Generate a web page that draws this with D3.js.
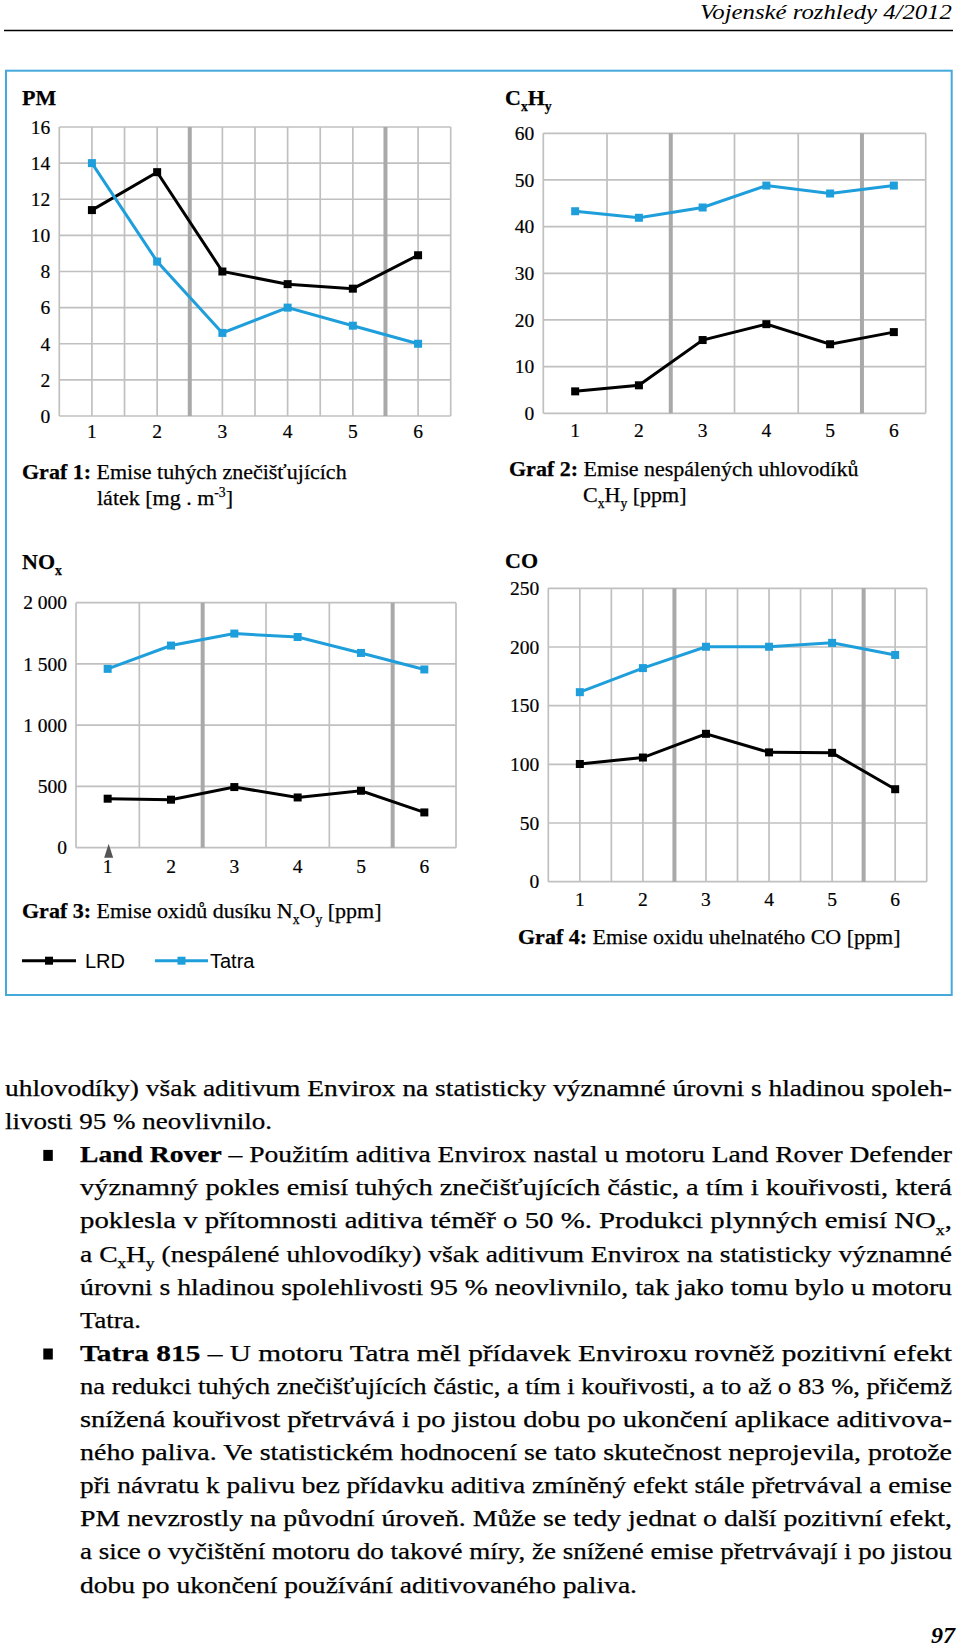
<!DOCTYPE html>
<html>
<head>
<meta charset="utf-8">
<script src="https://cdn.jsdelivr.net/npm/d3@7"></script>
<style>
html,body{margin:0;padding:0;background:#fff;}
svg{display:block;}
</style>
</head>
<body>
<svg id="page" width="960" height="1648"></svg>
<script>
// ---------------- DATA ----------------
const categories = [1, 2, 3, 4, 5, 6];
const seriesNames = ["LRD", "Tatra"];

const pmLRD   = [11.4, 13.5, 8.0, 7.3, 7.05, 8.9];
const pmTatra = [14.0, 8.55, 4.6, 6.0, 5.0, 4.0];
const pmTicks = [0, 2, 4, 6, 8, 10, 12, 14, 16];

const cxhyLRD   = [4.7, 6.0, 15.7, 19.1, 14.8, 17.4];
const cxhyTatra = [43.3, 41.9, 44.1, 48.8, 47.1, 48.8];
const cxhyTicks = [0, 10, 20, 30, 40, 50, 60];

const noxLRD   = [400, 392, 495, 410, 465, 288];
const noxTatra = [1460, 1650, 1748, 1720, 1590, 1455];
const noxTicks = [0, 500, 1000, 1500, 2000];
const noxTickLabels = ["0", "500", "1 000", "1 500", "2 000"];

const coLRD   = [100.3, 105.8, 126.0, 110.2, 109.8, 78.8];
const coTatra = [161.5, 182.0, 200.2, 200.2, 203.5, 193.2];
const coTicks = [0, 50, 100, 150, 200, 250];

const headerText = "Vojenské rozhledy 4/2012";
const pageNumber = "97";

const bodyLines = [
  [{t:"uhlovodíky) však aditivum Envirox na statisticky významné úrovni s hladinou spoleh-"}],
  [{t:"livosti 95 % neovlivnilo."}],
  [{t:"Land Rover", b:true}, {t:" – Použitím aditiva Envirox nastal u motoru Land Rover Defender"}],
  [{t:"významný pokles emisí tuhých znečišťujících částic, a tím i kouřivosti, která"}],
  [{t:"poklesla v přítomnosti aditiva téměř o 50 %. Produkci plynných emisí NO"}, {t:"x", sub:true}, {t:","}],
  [{t:"a C"}, {t:"x", sub:true}, {t:"H"}, {t:"y", sub:true}, {t:" (nespálené uhlovodíky) však aditivum Envirox na statisticky významné"}],
  [{t:"úrovni s hladinou spolehlivosti 95 % neovlivnilo, tak jako tomu bylo u motoru"}],
  [{t:"Tatra."}],
  [{t:"Tatra 815", b:true}, {t:" – U motoru Tatra měl přídavek Enviroxu rovněž pozitivní efekt"}],
  [{t:"na redukci tuhých znečišťujících částic, a tím i kouřivosti, a to až o 83 %, přičemž"}],
  [{t:"snížená kouřivost přetrvává i po jistou dobu po ukončení aplikace aditivova-"}],
  [{t:"ného paliva. Ve statistickém hodnocení se tato skutečnost neprojevila, protože"}],
  [{t:"při návratu k palivu bez přídavku aditiva zmíněný efekt stále přetrvával a emise"}],
  [{t:"PM nevzrostly na původní úroveň. Může se tedy jednat o další pozitivní efekt,"}],
  [{t:"a sice o vyčištění motoru do takové míry, že snížené emise přetrvávají i po jistou"}],
  [{t:"dobu po ukončení používání aditivovaného paliva."}]
];
// layout of the body lines (indent, end x, bullet)
const bodyLayout = [
  {x:5, end:952}, {x:5, end:272},
  {x:80, end:952, bullet:true}, {x:80, end:952}, {x:80, end:952}, {x:80, end:952}, {x:80, end:952}, {x:80, end:141},
  {x:80, end:952, bullet:true}, {x:80, end:952}, {x:80, end:952}, {x:80, end:952}, {x:80, end:952}, {x:80, end:952}, {x:80, end:952}, {x:80, end:637}
];

// ---------------- STYLE ----------------
const SERIF = "'Liberation Serif', Tinos, 'Times New Roman', Times, serif";
const SANS = "'Liberation Sans', Arimo, Arial, sans-serif";
const BLUE = "#1e9edb";
const FRAME = "#45a9dc";
const GRID = "#c0c0c0";
const THICK = "#a9a9a9";
const INK = "#000";

const svg = d3.select("#page");
svg.append("rect").attr("width", 960).attr("height", 1648).attr("fill", "#fff");

function richText(g, x, y, parts, size, family) {
  const t = g.append("text").attr("x", x).attr("y", y)
    .attr("font-size", size).attr("font-family", family).attr("fill", INK)
    .attr("stroke", INK).attr("stroke-width", 0.25);
  let shift = 0;
  parts.forEach(p => {
    const ts = t.append("tspan").text(p.t);
    const target = p.sub ? size * 0.28 : (p.sup ? -size * 0.38 : 0);
    const dy = target - shift;
    if (dy) ts.attr("dy", dy);
    shift = target;
    if (p.sub || p.sup) ts.attr("font-size", size * 0.62);
    if (p.b) ts.attr("font-weight", "bold");
    if (p.i) ts.attr("font-style", "italic");
  });
  return t;
}

// ---------------- HEADER ----------------
svg.append("text").attr("x", 700).attr("y", 18.5)
  .attr("font-family", SERIF).attr("font-style", "italic").attr("font-size", 20)
  .attr("textLength", 252).attr("lengthAdjust", "spacingAndGlyphs")
  .attr("fill", INK).text(headerText);
svg.append("line").attr("x1", 4).attr("x2", 953).attr("y1", 30.5).attr("y2", 30.5)
  .attr("stroke", INK).attr("stroke-width", 1.4);

// frame
svg.append("rect").attr("x", 6).attr("y", 70.7).attr("width", 945.7).attr("height", 924.3)
  .attr("fill", "none").attr("stroke", FRAME).attr("stroke-width", 2);

// ---------------- CHARTS ----------------
function drawChart(cfg) {
  const g = svg.append("g");
  const x = d3.scaleBand().domain(categories).range([cfg.left, cfg.right]).padding(0);
  const y = d3.scaleLinear().domain([0, d3.max(cfg.ticks)]).range([cfg.bottom, cfg.top]);
  const bw = x.bandwidth();
  const cx = c => x(c) + bw / 2;

  // horizontal grid
  g.append("g").selectAll("line").data(cfg.ticks).join("line")
    .attr("x1", cfg.left).attr("x2", cfg.right)
    .attr("y1", d => y(d)).attr("y2", d => y(d))
    .attr("stroke", GRID).attr("stroke-width", 1.7);

  // vertical grid
  const vpos = [];
  const step = cfg.halfGrid ? 0.5 : 1;
  for (let k = 0; k <= categories.length + 1e-9; k += step) vpos.push(cfg.left + k * bw);
  g.append("g").selectAll("line").data(vpos).join("line")
    .attr("x1", d => d).attr("x2", d => d)
    .attr("y1", y(d3.max(cfg.ticks))).attr("y2", y(0))
    .attr("stroke", GRID).attr("stroke-width", 1.7);

  // thick separators (between 2|3 and 5|6)
  g.append("g").selectAll("line").data([3, 6]).join("line")
    .attr("x1", d => x(d)).attr("x2", d => x(d))
    .attr("y1", y(d3.max(cfg.ticks))).attr("y2", y(0))
    .attr("stroke", THICK).attr("stroke-width", 4);

  // y axis labels
  const ya = g.append("g").attr("transform", `translate(${cfg.left},0)`)
    .call(d3.axisLeft(y).tickValues(cfg.ticks).tickSize(0).tickPadding(9)
      .tickFormat((d, i) => cfg.tickLabels ? cfg.tickLabels[i] : d));
  ya.select(".domain").remove();
  ya.attr("font-family", SERIF).attr("font-size", 19.5);
  ya.selectAll("text").attr("fill", INK).attr("stroke", INK).attr("stroke-width", 0.2);

  // x axis labels
  const xa = g.append("g").attr("transform", `translate(0,${cfg.bottom})`)
    .call(d3.axisBottom(x).tickSize(0).tickPadding(cfg.xPad));
  xa.select(".domain").remove();
  xa.attr("font-family", SERIF).attr("font-size", 19.5);
  xa.selectAll("text").attr("fill", INK).attr("stroke", INK).attr("stroke-width", 0.2);

  // series
  const series = [
    {vals: cfg.lrd, color: "#000"},
    {vals: cfg.tatra, color: BLUE}
  ];
  const line = d3.line().x((d, i) => cx(categories[i])).y(d => y(d));
  series.forEach(s => {
    g.append("path").datum(s.vals).attr("d", line)
      .attr("fill", "none").attr("stroke", s.color).attr("stroke-width", 3)
      .attr("stroke-linejoin", "miter");
    g.append("g").selectAll("rect").data(s.vals).join("rect")
      .attr("x", (d, i) => cx(categories[i]) - 4).attr("y", d => y(d) - 4)
      .attr("width", 8).attr("height", 8).attr("fill", s.color);
  });

  // title
  richText(g, cfg.titleX, cfg.titleY, cfg.title, 22, SERIF);
  // caption
  cfg.caption.forEach(c => richText(g, c.x, c.y, c.parts, 22, SERIF));
  return {g, x, y, cx};
}

drawChart({
  left: 59.3, right: 450.7, top: 127, bottom: 416, ticks: pmTicks,
  lrd: pmLRD, tatra: pmTatra, halfGrid: true, xPad: 8,
  title: [{t:"PM", b:true}], titleX: 22, titleY: 104.5,
  caption: [
    {x: 22, y: 478.5, parts: [{t:"Graf 1:", b:true}, {t:" Emise tuhých znečišťujících"}]},
    {x: 97, y: 505, parts: [{t:"látek [mg . m"}, {t:"-3", sup:true}, {t:"]"}]}
  ]
});

drawChart({
  left: 543.3, right: 925.7, top: 133.3, bottom: 413.3, ticks: cxhyTicks,
  lrd: cxhyLRD, tatra: cxhyTatra, halfGrid: false, xPad: 10,
  title: [{t:"C", b:true}, {t:"x", b:true, sub:true}, {t:"H", b:true}, {t:"y", b:true, sub:true}], titleX: 505, titleY: 104.5,
  caption: [
    {x: 509, y: 475.5, parts: [{t:"Graf 2:", b:true}, {t:" Emise nespálených uhlovodíků"}]},
    {x: 583, y: 501.5, parts: [{t:"C"}, {t:"x", sub:true}, {t:"H"}, {t:"y", sub:true}, {t:" [ppm]"}]}
  ]
});

const nox = drawChart({
  left: 76, right: 456, top: 602.7, bottom: 847.7, ticks: noxTicks, tickLabels: noxTickLabels,
  lrd: noxLRD, tatra: noxTatra, halfGrid: false, xPad: 11,
  title: [{t:"NO", b:true}, {t:"x", b:true, sub:true}], titleX: 22, titleY: 569,
  caption: [
    {x: 22, y: 917.5, parts: [{t:"Graf 3:", b:true}, {t:" Emise oxidů dusíku N"}, {t:"x", sub:true}, {t:"O"}, {t:"y", sub:true}, {t:" [ppm]"}]}
  ]
});
// small arrow marker below category 1
{
  const ax = nox.cx(categories[0]) + 1, ay = nox.y(0) - 4;
  svg.append("path")
    .attr("d", `M${ax},${ay} L${ax + 4.5},${ay + 14} L${ax - 4.5},${ay + 14} Z`)
    .attr("fill", "#555");
}

drawChart({
  left: 548.3, right: 926.7, top: 588.3, bottom: 881.7, ticks: coTicks,
  lrd: coLRD, tatra: coTatra, halfGrid: true, xPad: 10,
  title: [{t:"CO", b:true}], titleX: 505, titleY: 567.5,
  caption: [
    {x: 518, y: 944, parts: [{t:"Graf 4:", b:true}, {t:" Emise oxidu uhelnatého CO [ppm]"}]}
  ]
});

// legend
const legend = svg.append("g");
const legendItems = [
  {name: seriesNames[0], color: "#000", x1: 22, x2: 76, tx: 85},
  {name: seriesNames[1], color: BLUE, x1: 155, x2: 208, tx: 210}
];
legendItems.forEach(it => {
  legend.append("line").attr("x1", it.x1).attr("x2", it.x2).attr("y1", 960.7).attr("y2", 960.7)
    .attr("stroke", it.color).attr("stroke-width", 3);
  legend.append("rect").attr("x", (it.x1 + it.x2) / 2 - 4).attr("y", 956.7).attr("width", 8).attr("height", 8)
    .attr("fill", it.color);
  legend.append("text").attr("x", it.tx).attr("y", 968).attr("font-family", SANS).attr("font-size", 20)
    .attr("fill", INK).text(it.name);
});

// ---------------- BODY TEXT ----------------
const body = svg.append("g");
bodyLines.forEach((parts, i) => {
  const L = bodyLayout[i];
  const yb = 1096 + i * 33.1;
  const t = richText(body, L.x, yb, parts, 22.5, SERIF);
  t.attr("textLength", L.end - L.x).attr("lengthAdjust", "spacingAndGlyphs");
  if (L.bullet) {
    body.append("rect").attr("x", 43.3).attr("y", yb - 12.3).attr("width", 9.5).attr("height", 11).attr("fill", INK);
  }
});

svg.append("text").attr("x", 955).attr("y", 1643).attr("text-anchor", "end")
  .attr("font-family", SERIF).attr("font-weight", "bold").attr("font-style", "italic")
  .attr("font-size", 24).attr("fill", INK).text(pageNumber);
</script>
</body>
</html>
